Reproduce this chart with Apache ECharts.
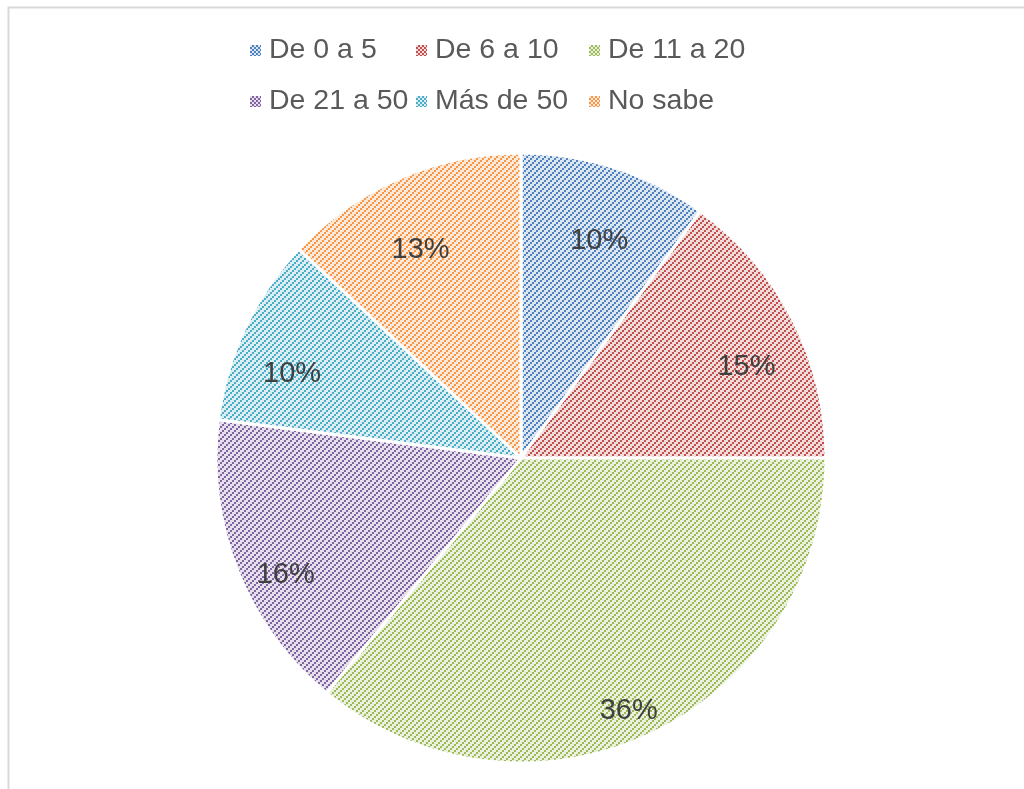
<!DOCTYPE html>
<html>
<head>
<meta charset="utf-8">
<script src="https://cdn.jsdelivr.net/npm/echarts@6/dist/echarts.min.js"></script>
<style>
html,body{margin:0;padding:0;background:#fff;}
#chart{width:1024px;height:789px;}
</style>
</head>
<body>
<div id="chart"></div>
<script>
const categories = ['De 0 a 5', 'De 6 a 10', 'De 11 a 20', 'De 21 a 50', 'Más de 50', 'No sabe'];
const percentages = [10, 15, 36, 16, 10, 13];
const foreColors = ['#4F81BD', '#C0504D', '#9BBB59', '#8064A2', '#4BACC6', '#F79646'];
const backColors = ['#DCE6F2', '#F2DCDB', '#EBF1DE', '#E6E0EC', '#DBEEF4', '#FDEADA'];

function makePattern(fg, bg, n) {
  const size = n * 2;
  const c = document.createElement('canvas');
  c.width = size; c.height = size;
  const ctx = c.getContext('2d');
  ctx.fillStyle = bg;
  ctx.fillRect(0, 0, size, size);
  ctx.fillStyle = fg;
  for (let by = 0; by < n; by++) {
    for (let bx = 0; bx < n; bx++) {
      if ((bx + by) % n === n - 1) ctx.fillRect(bx * 2, by * 2, 2, 2);
    }
  }
  return { image: c, repeat: 'repeat' };
}

const patterns = foreColors.map((f, i) => makePattern(f, backColors[i], 3));
const legendPatterns = foreColors.map((f, i) => makePattern(f, backColors[i], 2));
const pieData = categories.map((n, i) => ({ name: n, value: percentages[i], itemStyle: { color: patterns[i] } }));
const labelData = categories.map((n, i) => ({ name: n, value: percentages[i] }));

const chart = echarts.init(document.getElementById('chart'), null, { renderer: 'canvas' });
const font = "'Liberation Sans', Arial, sans-serif";
const legendBase = {
  orient: 'vertical',
  top: 36,
  padding: 0,
  itemWidth: 11,
  itemHeight: 11,
  itemGap: 22,
  icon: 'rect',
  selectedMode: false,
  textStyle: { fontSize: 28.5, color: '#595959', fontFamily: font, lineHeight: 28, padding: [0, 0, 0, 3] }
};
function legendItems(idx) {
  return idx.map(i => ({ name: categories[i], itemStyle: { color: legendPatterns[i], borderWidth: 0, borderColor: 'transparent' } }));
}

chart.setOption({
  animation: false,
  backgroundColor: '#fff',
  graphic: [{
    type: 'rect',
    shape: { x: 8.5, y: 7.5, width: 1100, height: 900 },
    style: { fill: 'none', stroke: '#d9d9d9', lineWidth: 2 },
    silent: true, z: -1
  }],
  legend: [
    Object.assign({}, legendBase, { left: 250, data: legendItems([0, 3]) }),
    Object.assign({}, legendBase, { left: 416, data: legendItems([1, 4]) }),
    Object.assign({}, legendBase, { left: 589, data: legendItems([2, 5]) })
  ],
  series: [
    {
      type: 'pie',
      center: [521, 458],
      radius: [0, 305],
      startAngle: 90,
      clockwise: true,
      avoidLabelOverlap: false,
      label: { show: false },
      labelLine: { show: false },
      itemStyle: { borderColor: '#fff', borderWidth: 3 },
      emphasis: { disabled: true },
      data: pieData
    },
    {
      type: 'pie',
      center: [521, 482],
      radius: [195, 305],
      startAngle: 90,
      clockwise: true,
      silent: true,
      avoidLabelOverlap: false,
      legendHoverLink: false,
      itemStyle: { color: 'rgba(0,0,0,0)', borderWidth: 0 },
      label: { show: true, position: 'inside', formatter: '{c}%', fontSize: 29, color: '#404040', fontFamily: font },
      labelLine: { show: false },
      emphasis: { disabled: true },
      data: labelData
    }
  ]
});
</script>
</body>
</html>
